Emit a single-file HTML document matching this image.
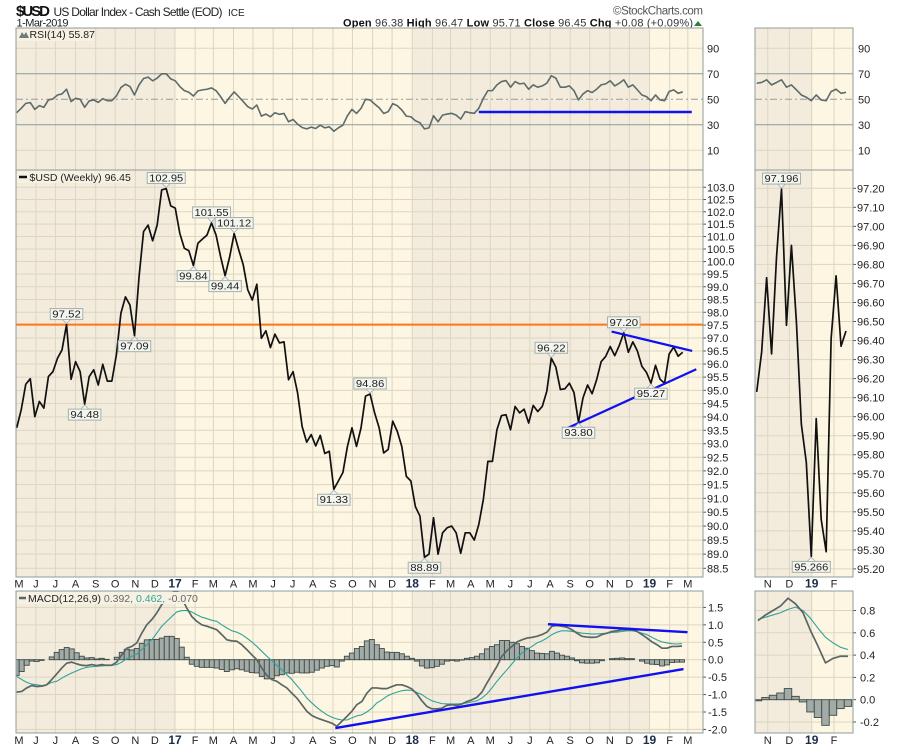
<!DOCTYPE html>
<html><head><meta charset="utf-8">
<style>
body{margin:0;background:#fff;width:900px;height:751px;overflow:hidden;font-family:"Liberation Sans",sans-serif}
svg{display:block}
text{font-family:"Liberation Sans",sans-serif}
</style></head>
<body>
<svg id="chart" width="900" height="751" viewBox="0 0 900 751">
  <text x="16" y="16" font-size="15" font-weight="bold" fill="#111" textLength="34">$USD</text>
  <text x="53.5" y="16" font-size="12" fill="#222" textLength="169">US Dollar Index - Cash Settle (EOD)</text>
  <text x="228" y="16" font-size="10" fill="#222">ICE</text>
  <text x="16.5" y="26.5" font-size="11" fill="#222" textLength="52">1-Mar-2019</text>
  <text x="613" y="14.5" font-size="11.5" fill="#555" textLength="90">©StockCharts.com</text>
  <text x="343" y="26.5" font-size="11" fill="#333" textLength="350" lengthAdjust="spacing"><tspan font-weight="bold" fill="#111">Open</tspan> 96.38 <tspan font-weight="bold" fill="#111">High</tspan> 96.47 <tspan font-weight="bold" fill="#111">Low</tspan> 95.71 <tspan font-weight="bold" fill="#111">Close</tspan> 96.45 <tspan font-weight="bold" fill="#111">Chg</tspan> +0.08 (+0.09%)</text>
  <polygon points="694,26 702,26 698,21" fill="#2e7d32"/>
</svg>
<script>
const closes=[93.59,94.27,95.23,95.44,94.01,94.58,94.33,95.52,95.71,96.22,
96.54,97.52,95.42,96.09,95.71,94.48,95.52,95.78,95.20,95.99,
95.35,95.35,96.35,97.96,98.60,98.28,97.09,99.39,101.2,101.46,
100.83,101.46,102.89,102.95,102.24,102.15,101.13,100.53,100.43,99.84,
100.73,100.90,101.06,101.55,101.06,100.2,99.44,100.18,101.12,100.47,
99.87,98.88,98.48,99.1,96.99,97.28,96.63,97.15,96.81,96.85,
95.40,95.71,94.9,93.64,93.06,93.34,92.92,93.31,92.64,92.72,
91.33,91.63,91.94,92.9,93.59,92.9,93.59,94.78,94.86,94.15,
93.59,92.66,92.79,93.84,93.46,92.9,91.8,91.63,90.70,90.36,
88.89,89.0,90.3,89.0,89.76,89.94,
90.0,89.76,89.03,89.76,89.76,89.5,90.06,90.96,92.35,92.35,93.52,94.05,94.08,93.52,94.39,94.15,94.29,93.77,94.43,94.2,94.39,94.96,96.22,95.88,95.03,95.06,95.27,94.92,93.80,94.72,95.2,94.87,95.4,96.09,96.29,96.67,96.32,96.71,97.20,96.45,96.85,96.5,95.91,95.68,95.27,95.95,95.42,95.27,96.38,96.65,96.3,96.45];
const rsi=[39.5,42.9,46.8,47.4,42.1,45,43.7,49.5,50.3,53.4,
54.2,57.9,48.2,50.8,50,43.7,48.7,49.5,47.6,50.5,
48.9,48.9,52.6,59.2,61.8,60,53.4,61.3,66.3,67.4,
64.5,66.6,70,70,66,64.5,60,56.8,55.5,52.6,
56.6,57.4,57.9,58.9,56.8,52.1,46.8,51.6,55.8,52.1,
48.2,44.2,42.4,45.5,36.8,38.4,36.3,39.5,38.2,38.9,
32.4,34.2,30.5,27.9,26.8,28.2,27.1,29.7,27.6,28.4,
25,27.6,29.7,37.1,42.1,38.9,42.9,50,49.5,46.3,
43.4,38.9,40.3,46.6,45,41.6,36.8,36.3,33.2,31.6,
26.8,27.6,37.1,32.4,37.6,38.4,
39,37.6,34.5,40.3,39.5,39,42.9,50.8,56.8,56.8,61.3,63.9,64.7,59.5,63.9,62.1,62.6,57.9,61.3,59.5,60.5,62.6,68.4,66.6,59.5,59.5,60.5,56.8,49.5,54.2,56.8,55.3,57.9,61.3,62.1,64.5,60.5,62.6,65.3,59.5,61.3,57.4,53.4,52.1,48.9,53.4,49.5,48.9,56.1,57.4,54.7,55.87];
const macdLine=[-0.93,-0.91,-0.81,-0.74,-0.77,-0.76,-0.72,-0.57,-0.41,-0.24,
-0.10,-0.07,-0.12,-0.16,-0.17,-0.14,-0.17,-0.14,-0.16,-0.16,
-0.07,0.14,0.33,0.38,0.48,0.76,1.0,1.15,1.34,1.58,
1.77,1.91,1.98,1.77,1.48,1.24,1.1,1.0,0.96,0.91,
0.86,0.72,0.57,0.54,0.53,0.43,0.29,0.14,0,-0.24,
-0.45,-0.57,-0.62,-0.72,-0.81,-0.96,-1.10,-1.29,-1.48,-1.60,
-1.67,-1.72,-1.77,-1.82,-1.91,-1.77,-1.63,-1.48,-1.29,
-1.20,-0.96,-0.81,-0.81,-0.83,-0.83,-0.77,-0.72,-0.72,-0.77,
-0.84,-0.98,-1.18,-1.34,-1.41,-1.41,-1.39,-1.31,-1.29,-1.31,
-1.27,-1.20,-1.15,-1.08,-0.93,-0.67,-0.43,-0.19,0.10,0.26,
0.38,0.51,0.57,0.62,0.64,0.67,0.72,0.79,0.96,0.98,
0.96,0.93,0.86,0.76,0.67,0.65,0.64,0.65,0.72,0.76,
0.81,0.83,0.86,0.86,0.86,0.81,0.72,0.62,0.51,0.43,
0.33,0.33,0.38,0.38,0.392];
const signalLine=[-0.48,-0.57,-0.65,-0.70,-0.72,-0.74,-0.72,-0.65,-0.62,-0.53,
-0.45,-0.38,-0.32,-0.26,-0.22,-0.20,-0.19,-0.18,-0.17,-0.16,
-0.14,-0.07,0.03,0.10,0.16,0.29,0.43,0.57,0.76,0.96,
1.10,1.24,1.37,1.41,1.41,1.37,1.29,1.22,1.18,1.13,
1.10,1.0,0.91,0.83,0.79,0.72,0.62,0.51,0.38,0.24,
0.10,-0.03,-0.16,-0.29,-0.43,-0.57,-0.74,-0.91,-1.10,-1.24,
-1.37,-1.48,-1.58,-1.65,-1.70,-1.73,-1.73,-1.67,-1.61,
-1.58,-1.50,-1.39,-1.24,-1.15,-1.05,-0.98,-0.93,-0.89,-0.87,
-0.88,-0.94,-1.0,-1.10,-1.18,-1.22,-1.26,-1.27,-1.27,-1.27,
-1.26,-1.24,-1.21,-1.18,-1.10,-0.98,-0.81,-0.62,-0.45,-0.29,
-0.12,0.05,0.19,0.29,0.38,0.48,0.54,0.62,0.72,0.79,
0.83,0.83,0.81,0.79,0.76,0.75,0.74,0.74,0.75,0.76,
0.78,0.79,0.81,0.83,0.83,0.81,0.76,0.72,0.64,0.57,
0.51,0.48,0.46,0.45,0.462];
const annIdx=[11,15,26,33,39,43,46,48,70,78,90,118,124,134,140];
const annAbove=[1,0,0,1,0,1,0,1,0,1,0,1,0,1,0];
const priceTicks=[103.0,102.5,102.0,101.5,101.0,100.5,100.0,99.5,99.0,98.5,98.0,97.5,97.0,96.5,96.0,95.5,95.0,94.5,94.0,93.5,93.0,92.5,92.0,91.5,91.0,90.5,90.0,89.5,89.0,88.5];
const rsiTicks=[90,70,50,30,10];
const macdTicks=[1.5,1.0,0.5,0.0,-0.5,-1.0,-1.5,-2.0];
const monthLabels=['M','J','J','A','S','O','N','D','17','F','M','A','M','J','J','A','S','O','N','D','18','F','M','A','M','J','J','A','S','O','N','D','19','F','M'];
const resistanceLevel=97.52;
const priceUpperTrend=[[131.3,97.25],[149.1,96.5]];
const priceLowerTrend=[[121.0,93.54],[150.0,95.8]];
const rsiTrend=[[102,40],[149,40]];
const macdLowerTrend=[[63.7,-1.96],[133.3,-0.27]];
const macdUpperTrend=[[106.2,1.02],[134.1,0.79]];
// right (daily) panel
const rPrice=[96.13,96.34,96.73,96.33,96.84,97.196,96.48,96.90,96.50,95.96,95.76,95.266,95.99,95.46,95.29,96.41,96.74,96.37,96.45];
const rRsi=[62.6,63.2,65.3,61.3,63.2,65.3,59.5,61.3,57.4,53.4,51.6,48.9,53.4,49.5,48.9,56.1,57.9,54.7,55.5];
const rMacd=[0.71,0.76,0.80,0.84,0.91,0.86,0.78,0.62,0.48,0.33,0.37,0.39,0.39];
const rSignal=[0.72,0.74,0.76,0.78,0.81,0.83,0.80,0.73,0.64,0.56,0.51,0.47,0.45];
const rPriceTicks=[97.20,97.10,97.00,96.90,96.80,96.70,96.60,96.50,96.40,96.30,96.20,96.10,96.00,95.90,95.80,95.70,95.60,95.50,95.40,95.30,95.20];
const rMacdTicks=[0.8,0.6,0.4,0.2,0.0,-0.2];
const rMonthLabels=['N','D','19','F'];
const rAnnIdx=[5,11];
const rAnnAbove=[1,0];

const NS='http://www.w3.org/2000/svg';
const svg=document.getElementById('chart');
function mk(tag,attrs,parent){const e=document.createElementNS(NS,tag);for(const k in attrs)e.setAttribute(k,attrs[k]);(parent||svg).appendChild(e);return e;}

const L={x0:16,x1:703}, R={x0:755,x1:853};
const P={rsi:[28,170],price:[170,577],macd:[591,733]};
const DAY=86400000, J17=Date.UTC(2017,0,1), J19=Date.UTC(2019,0,1);
const xDate=t=>175+(t-J17)/DAY/7*4.55;
const xRDate=t=>811.7+(t-J19)/DAY*0.72;
const xi=i=>16.7+i*(682.7-16.7)/(closes.length-1);
const xm=i=>16.7+i*(682-16.7)/(macdLine.length-1);
const xr=i=>756.7+i*(846-756.7)/(rPrice.length-1);
const xrm=i=>758+i*(848-758)/(rMacd.length-1);
const yP=v=>187.3+(Math.log(103)-Math.log(v))*2511;
const yR=v=>99.3-(v-50)*1.275;
const yM=v=>659.7-v*34.86;
const yRP=v=>188.3+(97.2-v)/0.1*19.03;
const yRM=v=>699.7-v*111.5;

const DARK='#f3ecdc', LIGHT='#fdf6e3', GRID='#ddd5c2', BORDER='#8e9c9c';
let el;
// clip paths
const defs=mk('defs',{});
function clip(id,x0,y0,x1,y1){const c=mk('clipPath',{id:id},defs);mk('rect',{x:x0,y:y0,width:x1-x0,height:y1-y0},c);}
clip('cL-rsi',L.x0,P.rsi[0],L.x1,P.rsi[1]);clip('cL-price',L.x0,P.price[0],L.x1,P.price[1]);clip('cL-macd',L.x0,P.macd[0],L.x1,P.macd[1]);
clip('cR-rsi',R.x0,P.rsi[0],R.x1,P.rsi[1]);clip('cR-price',R.x0,P.price[0],R.x1,P.price[1]);clip('cR-macd',R.x0,P.macd[0],R.x1,P.macd[1]);

const years=[Date.UTC(2016,0,1),J17,Date.UTC(2018,0,1),J19,Date.UTC(2020,0,1)];
const monthX=monthLabels.map((m,k)=>xDate(Date.UTC(2016,4+k,1)));
const rMonthX=rMonthLabels.map((m,k)=>xRDate(Date.UTC(2018,10+k,1)));

function panelBg(key){
  const [y0,y1]=P[key];
  for(let k=0;k<4;k++){
    const a=Math.max(L.x0,xDate(years[k])), b=Math.min(L.x1,xDate(years[k+1]));
    if(b<=a) continue;
    el=mk('rect',{x:a,y:y0,width:b-a,height:y1-y0,fill:k%2===0?DARK:LIGHT});
    
    
  }
  const s=xRDate(J19);
  el=mk('rect',{x:R.x0,y:y0,width:s-R.x0,height:y1-y0,fill:DARK});
  
  
  el=mk('rect',{x:s,y:y0,width:R.x1-s,height:y1-y0,fill:LIGHT});
  
  
  monthX.forEach(x=>{if(x>L.x0&&x<L.x1){
    el=mk('line',{x1:x,x2:x,y1:y0,y2:y1,stroke:GRID,'stroke-width':1});
    
    }});
  rMonthX.forEach(x=>{
    el=mk('line',{x1:x,x2:x,y1:y0,y2:y1,stroke:GRID,'stroke-width':1});
    
    });
}
function panelBorder(key){
  const [y0,y1]=P[key];
  el=mk('rect',{x:L.x0,y:y0,width:L.x1-L.x0,height:y1-y0,fill:'none',stroke:BORDER,'stroke-width':1});
  
  
  el=mk('rect',{x:R.x0,y:y0,width:R.x1-R.x0,height:y1-y0,fill:'none',stroke:BORDER,'stroke-width':1});
  
  
}
function hgrid(key,ticks,yf,x0,x1,fmt,lx,name){
  ticks.forEach(t=>{
    const y=yf(t);
    el=mk('line',{x1:x0,x2:x1,y1:y,y2:y,stroke:GRID,'stroke-width':1});
    
    
    el=mk('line',{x1:x1,x2:x1+3,y1:y,y2:y,stroke:'#555','stroke-width':1});
    
    
    el=mk('text',{x:lx,y:y+4,'font-size':11,fill:'#222'});
    el.textContent=fmt(t);
    
    
  });
}
function path(pts,attrs,clipId,name){
  const d=pts.map((p,k)=>(k?'L':'M')+p[0].toFixed(2)+','+p[1].toFixed(2)).join('');
  const a=Object.assign({d:d,fill:'none','stroke-linejoin':'round'},attrs);
  if(clipId)a['clip-path']='url(#'+clipId+')';
  el=mk('path',a);
  
  
  return el;
}
function monthAxis(y){
  monthLabels.forEach((m,k)=>{const x=Math.max(19,monthX[k]);const yr=/\d/.test(m);
    el=mk('text',{x:x,y:y,'font-size':yr?12:11,'font-weight':yr?'bold':'normal',fill:yr?'#1d2b45':'#222','text-anchor':'middle'});
    el.textContent=m;
    
    });
  rMonthLabels.forEach((m,k)=>{const yr=/\d/.test(m);
    el=mk('text',{x:rMonthX[k],y:y,'font-size':yr?12:11,'font-weight':yr?'bold':'normal',fill:yr?'#1d2b45':'#222','text-anchor':'middle'});
    el.textContent=m;
    
    });
}
function callout(x,y,txt,above,name){
  const w=txt.length*5.5+5,h=11;
  const by=above?y-5-h:y+5;
  const g=mk('g',{});
  
  
  mk('rect',{x:x-w/2,y:by,width:w,height:h,fill:'#f5f5ef',stroke:'#a3b0ae','stroke-width':1},g);
  const ty=above?y-5:y+5;
  mk('polygon',{points:`${x-4},${ty} ${x+4},${ty} ${x},${above?y-1:y+1}`,fill:'#f5f5ef',stroke:'#a3b0ae','stroke-width':0.8},g);
  const t=mk('text',{x:x,y:by+9,'font-size':10,fill:'#222','text-anchor':'middle',textLength:w-4,lengthAdjust:'spacingAndGlyphs'},g);
  t.textContent=txt;
}

// ---- RSI panel ----
panelBg('rsi');
rsiTicks.forEach(t=>{
  const y=yR(t);
  const style=t===50?{stroke:'#9a9a9a','stroke-dasharray':'7,3,2,3'}:(t===70||t===30?{stroke:'#8c9a9a'}:{stroke:GRID});
  [[L.x0,L.x1],[R.x0,R.x1]].forEach(([a,b])=>{
    el=mk('line',Object.assign({x1:a,x2:b,y1:y,y2:y,'stroke-width':1},style));
    
    
  });
  [L.x1+4,R.x1+5].forEach(lx=>{
    el=mk('text',{x:lx,y:y+4,'font-size':11,fill:'#222'});
    el.textContent=String(t);
    
    
  });
});
path(rsi.map((v,i)=>[xi(i),yR(v)]),{stroke:'#5d6b6b','stroke-width':1.6},'cL-rsi','rsi-line');
path(rRsi.map((v,i)=>[xr(i),yR(v)]),{stroke:'#5d6b6b','stroke-width':1.6},'cR-rsi','right-rsi-line');
path(rsiTrend.map(p=>[xi(p[0]),yR(p[1])]),{stroke:'#1010f0','stroke-width':2.5},'cL-rsi','rsi-support-trendline');
panelBorder('rsi');
el=mk('rect',{x:17,y:29,width:76,height:12,fill:'#f7f1e3'});


el=mk('polygon',{points:'19,38 22,32 24,35 26,32 29,38',fill:'#6d7b7b'});


el=mk('text',{x:29.5,y:38,'font-size':10.5,fill:'#222'});
el.textContent='RSI(14) 55.87';



// ---- Price panel ----
panelBg('price');
hgrid('price',priceTicks,yP,L.x0,L.x1,t=>t.toFixed(1),707,'price');
hgrid('price',rPriceTicks,yRP,R.x0,R.x1,t=>t.toFixed(2),857,'right-price');
el=mk('line',{x1:L.x0,x2:L.x1,y1:yP(resistanceLevel),y2:yP(resistanceLevel),stroke:'#ff7518','stroke-width':2});


path(closes.map((v,i)=>[xi(i),yP(v)]),{stroke:'#111','stroke-width':1.7},'cL-price','price-line');
path(priceUpperTrend.map(p=>[xi(p[0]),yP(p[1])]),{stroke:'#1010f0','stroke-width':2.2},'cL-price','upper-trendline');
path(priceLowerTrend.map(p=>[xi(p[0]),yP(p[1])]),{stroke:'#1010f0','stroke-width':2.2},'cL-price','lower-trendline');
annIdx.forEach((i,k)=>callout(xi(i),yP(closes[i]),closes[i].toFixed(2),annAbove[k]===1,'price-annotation'));
path(rPrice.map((v,i)=>[xr(i),yRP(v)]),{stroke:'#111','stroke-width':1.7},'cR-price','right-price-line');
rAnnIdx.forEach((i,k)=>callout(xr(i),yRP(rPrice[i]),rPrice[i].toFixed(3),rAnnAbove[k]===1,'right-price-annotation'));
panelBorder('price');
el=mk('rect',{x:17,y:171,width:110,height:12,fill:'#f7f1e3'});


el=mk('line',{x1:19,x2:27,y1:177,y2:177,stroke:'#111','stroke-width':2.5});


el=mk('text',{x:29.5,y:181,'font-size':10.5,fill:'#222'});
el.textContent='$USD (Weekly) 96.45';


monthAxis(587.5);

// ---- MACD panel ----
panelBg('macd');
hgrid('macd',macdTicks,yM,L.x0,L.x1,t=>t.toFixed(1),708,'macd');
hgrid('macd',rMacdTicks,yRM,R.x0,R.x1,t=>t.toFixed(1),860,'right-macd');
const bw=(682-16.7)/(macdLine.length-1);
macdLine.forEach((m,i)=>{
  const h=m-signalLine[i];const y0=yM(0),y1=yM(h);
  el=mk('rect',{x:xm(i)-bw/2,y:Math.min(y0,y1),width:bw,height:Math.abs(y1-y0),fill:'#a3aba6',stroke:'#3d4b4b','stroke-width':0.9,'clip-path':'url(#cL-macd)'});
  
  
});
const rbw=(848-758)/(rMacd.length-1);
rMacd.forEach((m,i)=>{
  const h=m-rSignal[i];const y0=yRM(0),y1=yRM(h);
  el=mk('rect',{x:xrm(i)-rbw/2,y:Math.min(y0,y1),width:rbw,height:Math.abs(y1-y0),fill:'#a3aba6',stroke:'#3d4b4b','stroke-width':0.9,'clip-path':'url(#cR-macd)'});
  
  
});
path(signalLine.map((v,i)=>[xm(i),yM(v)]),{stroke:'#2fa39a','stroke-width':1.1},'cL-macd','macd-signal-line');
path(macdLine.map((v,i)=>[xm(i),yM(v)]),{stroke:'#5a6666','stroke-width':1.7},'cL-macd','macd-line');
path(rSignal.map((v,i)=>[xrm(i),yRM(v)]),{stroke:'#2fa39a','stroke-width':1.1},'cR-macd','right-macd-signal-line');
path(rMacd.map((v,i)=>[xrm(i),yRM(v)]),{stroke:'#5a6666','stroke-width':1.7},'cR-macd','right-macd-line');
path(macdLowerTrend.map(p=>[xm(p[0]),yM(p[1])]),{stroke:'#1010f0','stroke-width':2.4},'cL-macd','macd-lower-trendline');
path(macdUpperTrend.map(p=>[xm(p[0]),yM(p[1])]),{stroke:'#1010f0','stroke-width':2.4},'cL-macd','macd-upper-trendline');
panelBorder('macd');
el=mk('rect',{x:17,y:592,width:170,height:12,fill:'#f7f1e3'});


el=mk('line',{x1:19,x2:26,y1:598,y2:598,stroke:'#5a6666','stroke-width':2.5});


el=mk('text',{x:28,y:602,'font-size':10.5,fill:'#222'});
el.innerHTML='MACD(12,26,9) <tspan fill="#666">0.392,</tspan> <tspan fill="#2fa39a">0.462,</tspan> <tspan fill="#666">-0.070</tspan>';


monthAxis(744);
</script>
</body></html>
